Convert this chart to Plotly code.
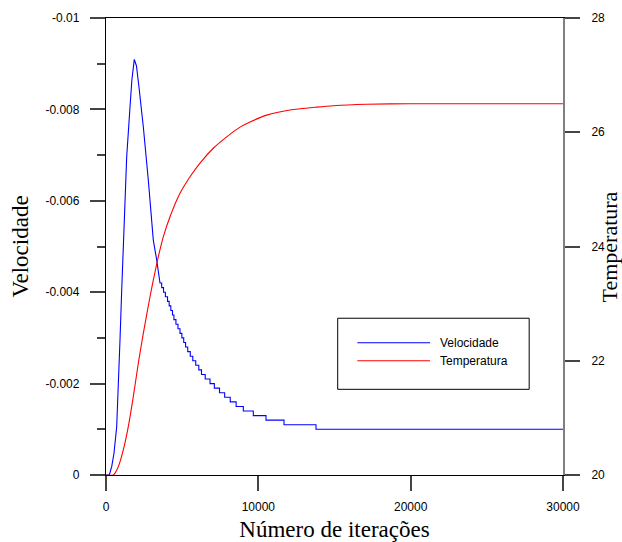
import plotly.graph_objects as go

# ---------------- data ----------------
# Velocidade (left axis, reversed) - smooth start-up and peak
vel_x = [0, 217, 374, 525, 702, 808, 919, 1031, 1136, 1359, 1576, 1700, 1858, 2000, 2186,
         2449, 2777, 3105, 3328, 3545]
vel_y = [0, 0, -0.000182, -0.000475, -0.001057, -0.00186, -0.002954, -0.00405, -0.00514,
         -0.006964, -0.008058, -0.00865, -0.009095, -0.00895, -0.008424,
         -0.00762, -0.006455, -0.00514, -0.004704, -0.0042]
# Velocidade - quantised (1e-4) decay: iteration where each level starts
step_x = [3655, 3777, 3899, 4039, 4147, 4256, 4364, 4458, 4591, 4725, 4858, 4980, 5102,
          5225, 5365, 5531, 5698, 5891, 6091, 6269, 6513, 6828, 7113, 7451, 7789, 8156,
          8542, 9014, 9670, 10504, 11686, 13787]
step_v = [-0.0041, -0.0040, -0.0039, -0.0038, -0.0037, -0.0036, -0.0035, -0.0034, -0.0033,
          -0.0032, -0.0031, -0.0030, -0.0029, -0.0028, -0.0027, -0.0026, -0.0025, -0.0024,
          -0.0023, -0.0022, -0.0021, -0.0020, -0.0019, -0.0018, -0.0017, -0.0016, -0.0015,
          -0.0014, -0.0013, -0.0012, -0.0011, -0.0010]
x_end = 30000

# Temperatura (right axis)
temp_x = [0, 479, 808, 1136, 1464, 1792, 2121, 2449, 2889, 3105, 3433, 3762, 4202, 4858,
          5515, 6171, 7044, 7924, 8797, 9453, 10550, 12080, 13833, 14922, 17115, 19958, 30000]
temp_y = [20.0, 20.0, 20.145, 20.438, 20.846, 21.371, 21.955, 22.48, 23.12, 23.41, 23.82,
          24.17, 24.52, 24.93, 25.22, 25.46, 25.72, 25.92, 26.09, 26.18, 26.30, 26.39,
          26.44, 26.465, 26.49, 26.50, 26.50]

vel_ticks = [-0.01, -0.008, -0.006, -0.004, -0.002, 0]
vel_ticktext = ["-0.01", "-0.008", "-0.006", "-0.004", "-0.002", "0"]
x_ticks = [0, 10000, 20000, 30000]
x_ticktext = ["0", "10000", "20000", "30000"]
temp_ticks = [20, 22, 24, 26, 28]
series_names = ["Velocidade", "Temperatura"]
series_colors = ["#0000ff", "#ff0000"]

# build the stepped velocity polyline from the arrays
vx = list(vel_x)
vy = list(vel_y)
prev = vel_y[-1]
for xs, lv in zip(step_x, step_v):
    vx += [xs, xs]
    vy += [prev, lv]
    prev = lv
vx.append(x_end)
vy.append(prev)

tickfont = dict(family="Liberation Sans, Arial", size=12, color="#000")
titlefont = dict(family="Liberation Serif, Times New Roman", size=23, color="#000")

fig = go.Figure()
fig.add_trace(go.Scatter(x=vx, y=vy, mode="lines", name=series_names[0],
                         line=dict(color=series_colors[0], width=1.1), yaxis="y"))
fig.add_trace(go.Scatter(x=temp_x, y=temp_y, mode="lines", name=series_names[1],
                         line=dict(color=series_colors[1], width=1.1, shape="spline",
                                   smoothing=0.6), yaxis="y2"))

# legend box (drawn like the original: long key lines inside a framed box)
shapes = [dict(type="rect", xref="paper", yref="paper", x0=0.507, x1=0.926,
               y0=0.1875, y1=0.343, line=dict(color="#000", width=1),
               fillcolor="rgba(0,0,0,0)")]
annotations = []
for i, (nm, col) in enumerate(zip(series_names, series_colors)):
    yy = 0.2895 - i * 0.0394
    shapes.append(dict(type="line", xref="paper", yref="paper", x0=0.550, x1=0.709,
                       y0=yy, y1=yy, line=dict(color=col, width=1.1)))
    annotations.append(dict(text=nm, xref="paper", yref="paper", x=0.7258, y=yy,
                            xanchor="left", yanchor="middle", showarrow=False,
                            font=dict(family="Liberation Sans, Arial", size=12, color="#000")))

# right-axis title, placed close to the page edge as in the original
annotations.append(dict(text="Temperatura", xref="paper", yref="paper", x=1.1028, y=0.5,
                        xanchor="center", yanchor="middle", textangle=-90, showarrow=False,
                        font=dict(family="Liberation Serif, Times New Roman", size=22,
                                  color="#000")))

fig.update_layout(
    width=622, height=542,
    margin=dict(l=106, r=59, t=18, b=67),
    plot_bgcolor="white", paper_bgcolor="white",
    showlegend=False,
    xaxis=dict(range=[0, 30000], tickvals=x_ticks, ticktext=x_ticktext, ticks="outside",
               ticklen=15, tickwidth=1.5, tickcolor="#444", showline=True, linecolor="#000",
               linewidth=1.3, mirror=True, showgrid=False, zeroline=False,
               tickfont=tickfont, ticklabelstandoff=5, automargin=False,
               title=dict(text="Número de iterações", font=titlefont, standoff=20)),
    yaxis=dict(range=[0, -0.01], tickvals=vel_ticks, ticktext=vel_ticktext,
               ticks="outside", ticklen=15, tickwidth=1.5, tickcolor="#444",
               minor=dict(dtick=0.001, tick0=0, ticks="outside", ticklen=8,
                          tickwidth=1.5, tickcolor="#444"),
               showline=True, linecolor="#000", linewidth=1.3, showgrid=False,
               zeroline=False, tickfont=tickfont, ticklabelstandoff=8, automargin=False,
               title=dict(text="Velocidade", font=titlefont, standoff=10)),
    yaxis2=dict(range=[20, 28], tickvals=temp_ticks, overlaying="y", side="right",
                ticks="outside", ticklen=15, tickwidth=1.5, tickcolor="#444",
                showline=True, linecolor="#808080", linewidth=2, showgrid=False,
                zeroline=False, tickfont=tickfont, ticklabelstandoff=9, automargin=False),
    shapes=shapes,
    annotations=annotations,
)

fig.write_html("out.html")
